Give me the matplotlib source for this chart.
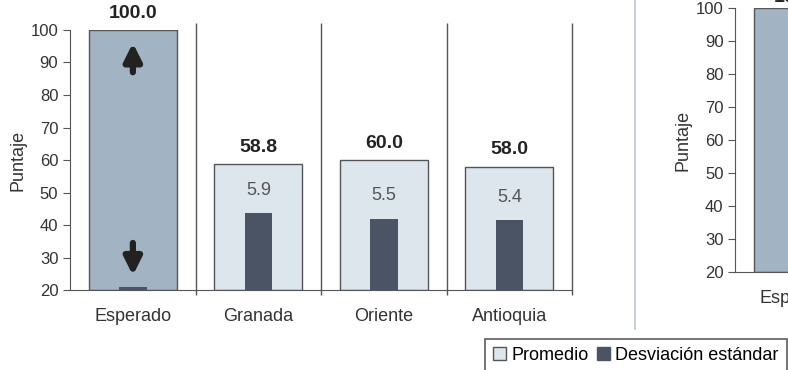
import matplotlib.pyplot as plt
from matplotlib.lines import Line2D
from matplotlib.patches import Patch

plt.rcParams['font.family'] = ['Liberation Sans', 'DejaVu Sans']

# Data
regiones = ["Esperado", "Granada", "Oriente", "Antioquia"]
promedio = [100.0, 58.8, 60.0, 58.0]
desviacion = [0.2, 5.9, 5.5, 5.4]
etiq_desv = ["", "5.9", "5.5", "5.4"]
regiones_der = ["Esperado"]
promedio_der = [100.0]

c_esperado = "#a2b4c3"
c_prom = "#dde6ec"
c_desv = "#4a5465"
c_borde = "#555555"

fig = plt.figure(figsize=(7.88, 3.70), dpi=100)

#%%
# Left panel
ax = fig.add_axes([0.089, 0.216, 0.637, 0.703])
x = list(range(len(regiones)))
colores = [c_esperado] + [c_prom] * (len(regiones) - 1)
ax.bar(x, [p - 20 for p in promedio], bottom=20, width=0.7, color=colores,
       edgecolor=c_borde, linewidth=1, zorder=2)
for i in x:
    ax.text(i, promedio[i] + 2.5, "{:.1f}".format(promedio[i]), ha="center",
            va="bottom", fontsize=14, fontweight="bold", color="#222222")
ax.set_ylim(20, 100)
ax.set_xlim(-0.5, 3.5)
ax.set_yticks(range(20, 101, 10))
ax.set_xticks(x)
ax.set_xticklabels(regiones, fontsize=13, color="#333333")
ax.tick_params(axis="x", length=0, pad=13)
ax.tick_params(axis="y", labelsize=12, labelcolor="#333333", length=5,
               color="#555555")
ax.set_ylabel("Puntaje", fontsize=13, color="#333333", labelpad=3)
for s in ["top", "right"]:
    ax.spines[s].set_visible(False)
ax.spines["left"].set_color("#555555")
ax.spines["bottom"].set_color("#555555")
ax.vlines([0.5, 1.5, 2.5, 3.5], 18.5, 102, color="#555555", linewidth=1,
          clip_on=False, zorder=1)

# arrows on Esperado
ax.annotate("", xy=(0, 96), xytext=(0, 87),
            arrowprops=dict(arrowstyle="-|>", lw=4.5, color="#222222",
                            mutation_scale=26, shrinkA=0, shrinkB=0), zorder=4)
ax.annotate("", xy=(0, 24.5), xytext=(0, 34.5),
            arrowprops=dict(arrowstyle="-|>", lw=4.5, color="#222222",
                            mutation_scale=26, shrinkA=0, shrinkB=0), zorder=4)

# Std on secondary scale
ax2 = ax.twinx()
ax2.bar(x, desviacion, width=0.22, color=c_desv, zorder=3)
for i in x:
    if etiq_desv[i]:
        ax2.text(i, desviacion[i] + 1.1, etiq_desv[i], ha="center", va="bottom",
                 fontsize=13, color="#555555")
ax2.set_ylim(0, 20)
ax2.set_axis_off()

#%%
# Right panel (cut off)
axr = fig.add_axes([0.933, 0.265, 0.637, 0.713])
axr.bar([0], [p - 20 for p in promedio_der], bottom=20, width=0.7,
        color=c_esperado, edgecolor=c_borde, linewidth=1)
axr.text(0, 100.5, "100.0", ha="center", va="bottom", fontsize=14,
         fontweight="bold", color="#222222")
axr.set_ylim(20, 100)
axr.set_xlim(-0.5, 3.5)
axr.set_yticks(range(20, 101, 10))
axr.set_xticks([0])
axr.set_xticklabels(regiones_der, fontsize=13, color="#333333")
axr.tick_params(axis="x", length=0, pad=13)
axr.tick_params(axis="y", labelsize=12, labelcolor="#333333", length=5,
                color="#555555")
axr.set_ylabel("Puntaje", fontsize=13, color="#333333", labelpad=3)
for s in ["top", "right"]:
    axr.spines[s].set_visible(False)
axr.spines["left"].set_color("#555555")
axr.spines["bottom"].set_color("#555555")

# divider between panels
fig.add_artist(Line2D([0.806, 0.806], [0.11, 1.0], color="#b9c8d4",
                      linewidth=1.2))

# Legend
handles = [Patch(facecolor=c_prom, edgecolor=c_borde, label="Promedio"),
           Patch(facecolor=c_desv, edgecolor=c_desv, label="Desviación estándar")]
leg = fig.legend(handles=handles, loc="lower left", bbox_to_anchor=(0.604, -0.03),
                 ncol=2, fontsize=13, frameon=True, fancybox=False,
                 handlelength=0.7, handleheight=0.7, handletextpad=0.3,
                 columnspacing=0.5, borderpad=0.45)
leg.get_frame().set_edgecolor("#333333")
leg.get_frame().set_linewidth(1.2)

plt.savefig("out.png", dpi=100)
